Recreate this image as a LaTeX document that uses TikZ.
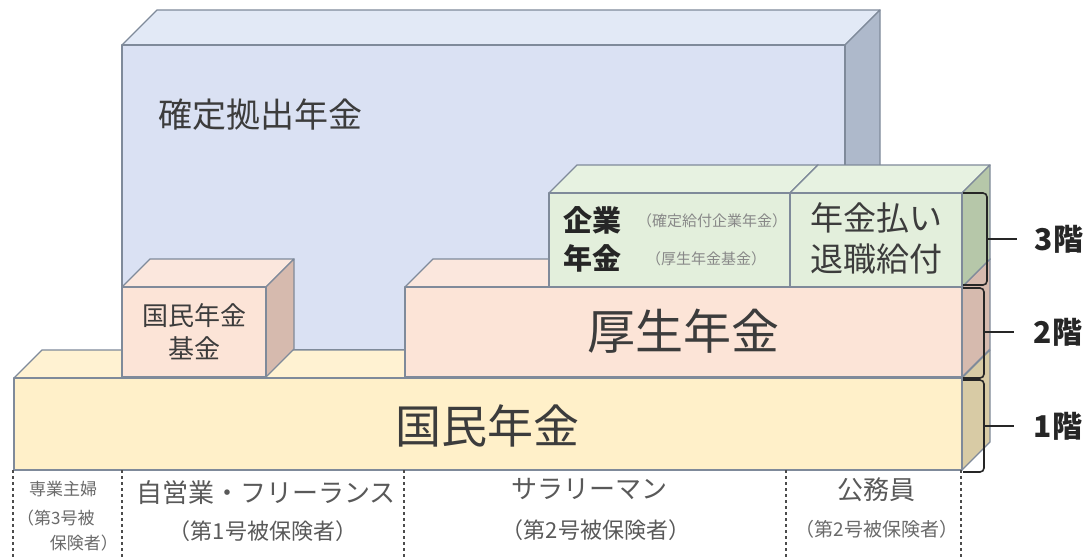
\documentclass[tikz,border=0pt]{standalone}
\usepackage{fontspec}
\setmainfont{Noto Sans CJK JP}
\definecolor{edgec}{HTML}{7F8A9A}
\definecolor{blueF}{HTML}{DAE1F3}
\definecolor{blueT}{HTML}{E2E9F6}
\definecolor{blueS}{HTML}{AEB9CB}
\definecolor{yelF}{HTML}{FFF0C9}
\definecolor{yelT}{HTML}{FFF2D2}
\definecolor{yelS}{HTML}{D8CBA5}
\definecolor{pinkF}{HTML}{FCE4D7}
\definecolor{pinkT}{HTML}{FBE7DD}
\definecolor{pinkS}{HTML}{D6BAAE}
\definecolor{grnF}{HTML}{E3EFDC}
\definecolor{grnT}{HTML}{E7F2E1}
\definecolor{grnS}{HTML}{B6C7A9}
\definecolor{txt}{HTML}{3C3C3C}
\definecolor{txtl}{HTML}{6A6A6A}
% #1 x1 #2 y1 #3 x2 #4 y2 #5 depth #6 front #7 top #8 side
\newcommand\mycube[8]{%
  \filldraw[fill=#7,edge] (#1,#2) -- (#1+#5,#2-#5) -- (#3+#5,#2-#5) -- (#3,#2) -- cycle;
  \filldraw[fill=#8,edge] (#3,#2) -- (#3+#5,#2-#5) -- (#3+#5,#4-#5) -- (#3,#4) -- cycle;
  \filldraw[fill=#6,edge] (#1,#2) rectangle (#3,#4);
}
\begin{document}
\begin{tikzpicture}[x=1pt,y=-1pt,
  edge/.style={draw=edgec,line width=1.3pt,line join=round},
  lbl/.style={text=txt,inner sep=0pt,align=center},
  brk/.style={draw=black!85,line width=1.6pt,rounded corners=4pt},
  sepline/.style={draw=black!70,line width=1.5pt,dash pattern=on 3pt off 3pt}]
\useasboundingbox (0,0) rectangle (1091,558);
\fill[white] (0,0) rectangle (1091,558);

% 確定拠出年金 (back)
\mycube{122}{45}{845}{350}{35}{blueF}{blueT}{blueS}

% 国民年金 top face
\filldraw[fill=yelT,edge] (14,378) -- (42,350) -- (990,350) -- (962,378) -- cycle;

% 2nd floor boxes
\mycube{122}{287}{266}{377}{28}{pinkF}{pinkT}{pinkS}
\mycube{405}{287}{962}{377}{28}{pinkF}{pinkT}{pinkS}

% 3rd floor boxes
\mycube{549}{193}{790}{287}{28}{grnF}{grnT}{grnS}
\mycube{790}{193}{962}{287}{28}{grnF}{grnT}{grnS}

% 国民年金 front and side
\filldraw[fill=yelS,edge] (962,378) -- (990,350) -- (990,442) -- (962,470) -- cycle;
\filldraw[fill=yelF,edge] (14,378) rectangle (962,470);

% texts in boxes
\node[lbl,font=\fontsize{34}{40}\selectfont,anchor=west] (dc) at (158,115) {確定拠出年金};
\node[lbl,font=\fontsize{26}{33}\selectfont] (kkk) at (194,332) {国民年金\\基金};
\node[lbl,font=\fontsize{48}{56}\selectfont] (kosei) at (683,331) {厚生年金};
\node[lbl,font=\fontsize{46}{54}\selectfont] (kokumin) at (487,426) {国民年金};
\node[lbl,font=\bfseries\fontsize{29}{38}\selectfont,text=black!85] (kigyo) at (592,239) {企業\\年金};
\node[lbl,font=\fontsize{15}{18}\selectfont,text=txtl!80] (kakutei) at (712,221) {（確定給付企業年金）};
\node[lbl,font=\fontsize{15}{18}\selectfont,text=txtl!80] (kikin) at (706,259) {（厚生年金基金）};
\node[lbl,font=\fontsize{33}{41}\selectfont] (harai) at (876,238) {年金払い\\退職給付};

% floor brackets
\coordinate (b3t) at (963,193); \coordinate (b3b) at (963,285);
\coordinate (b2t) at (963,288); \coordinate (b2b) at (963,378);
\coordinate (b1t) at (963,380); \coordinate (b1b) at (963,472);
\draw[brk] (b3t) -- ++(24,0) -- ++(0,92) -- (b3b);
\draw[brk] (b2t) -- ++(21,0) -- ++(0,90) -- (b2b);
\draw[brk] (b1t) -- ++(21,0) -- ++(0,92) -- (b1b);
\node[lbl,font=\bfseries\fontsize{30}{30}\selectfont,text=black!85] (f3) at (1059,239) {3階};
\node[lbl,font=\bfseries\fontsize{30}{30}\selectfont,text=black!85] (f2) at (1058,332) {2階};
\node[lbl,font=\bfseries\fontsize{30}{30}\selectfont,text=black!85] (f1) at (1058,426) {1階};
\draw[line width=1.6pt,black!85] (987,239) -- (f3.west -| 1017,0);
\draw[line width=1.6pt,black!85] (984,332) -- (f2.west -| 1014,0);
\draw[line width=1.6pt,black!85] (984,426) -- (f1.west -| 1014,0);

% bottom separators
\draw[sepline] (13,470) -- (13,558);
\draw[sepline] (122,470) -- (122,558);
\draw[sepline] (404,470) -- (404,558);
\draw[sepline] (786,470) -- (786,558);
\draw[sepline] (961,470) -- (961,558);

% bottom labels
\node[lbl,font=\fontsize{17}{20}\selectfont,text=txtl] (sengyo) at (63,489) {専業主婦};
\node[lbl,font=\fontsize{17}{20}\selectfont,text=txtl,anchor=west] (sengyo2) at (17,518) {（第3号被};
\node[lbl,font=\fontsize{17}{20}\selectfont,text=txtl,anchor=east] (sengyo3) at (118,543) {保険者）};
\node[lbl,font=\fontsize{26}{30}\selectfont,text=txt!85] (jiei) at (266,493) {自営業・フリーランス};
\node[lbl,font=\fontsize{22}{26}\selectfont,text=txt!85] (jiei2) at (263,531) {（第1号被保険者）};
\node[lbl,font=\fontsize{26}{30}\selectfont,text=txt!85] (sala) at (589,489) {サラリーマン};
\node[lbl,font=\fontsize{22}{26}\selectfont,text=txt!85] (sala2) at (596,530) {（第2号被保険者）};
\node[lbl,font=\fontsize{26}{30}\selectfont,text=txt!85] (komu) at (876,490) {公務員};
\node[lbl,font=\fontsize{19}{22}\selectfont,text=txtl] (komu2) at (877,529) {（第2号被保険者）};
\end{tikzpicture}
\end{document}
